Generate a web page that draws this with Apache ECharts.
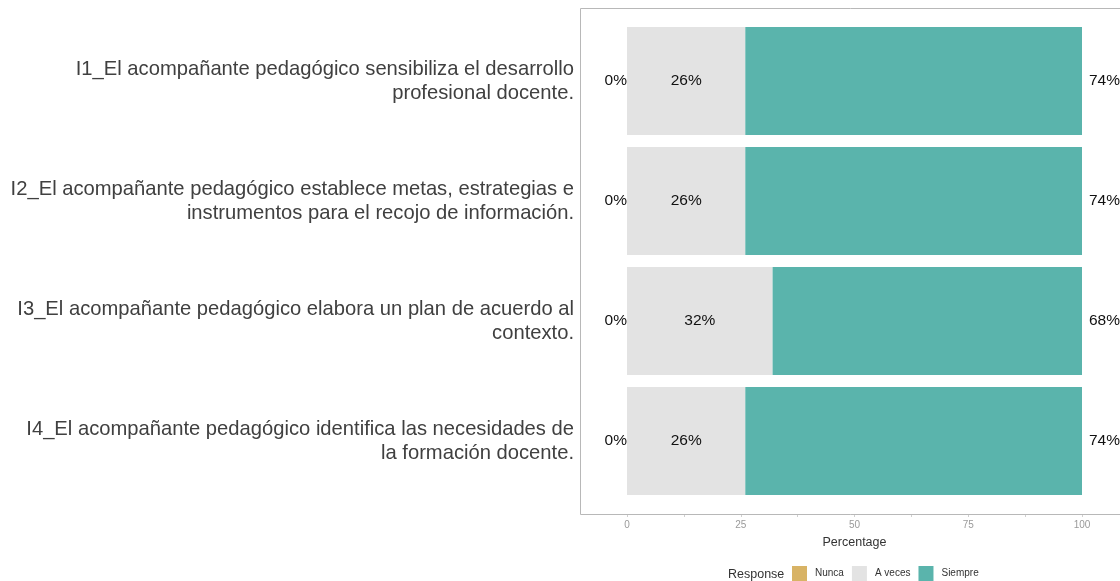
<!DOCTYPE html>
<html>
<head>
<meta charset="utf-8">
<script src="https://cdn.jsdelivr.net/npm/echarts@6/dist/echarts.min.js"></script>
<style>
html,body{margin:0;padding:0;background:#fff;}
#c{width:1120px;height:581px;}
</style>
</head>
<body>
<div id="c"></div>
<script>
const categories = [
  "I1_El acompañante pedagógico sensibiliza el desarrollo\nprofesional docente.",
  "I2_El acompañante pedagógico establece metas, estrategias e\ninstrumentos para el recojo de información.",
  "I3_El acompañante pedagógico elabora un plan de acuerdo al\ncontexto.",
  "I4_El acompañante pedagógico identifica las necesidades de\nla formación docente."
];
const nunca = [0, 0, 0, 0];
const aveces = [26, 26, 32, 26];
const siempre = [74, 74, 68, 74];
const tickValues = [0, 12.5, 25, 37.5, 50, 62.5, 75, 87.5, 100];
const tickLabels = [0, 25, 50, 75, 100];

const FONT = '"Liberation Sans", Arial, sans-serif';
const chart = echarts.init(document.getElementById('c'), null, {renderer: 'canvas'});
const pct = p => p.value + '%';

chart.setOption({
  animation: false,
  textStyle: {fontFamily: FONT},
  grid: {left: 580, top: 21, width: 549, height: 480, containLabel: false, outerBoundsMode: 'none'},
  graphic: [
    {type: 'rect', shape: {x: 580.5, y: 8.5, width: 549, height: 506},
     style: {fill: 'none', stroke: '#b8b8b8', lineWidth: 1}, z: 10, silent: true},
    {type: 'text', x: 728, y: 568,
     style: {text: 'Response', font: '12.5px ' + FONT, fill: '#333'}}
  ],
  legend: {
    left: 792, top: 566, orient: 'horizontal', padding: 0,
    itemWidth: 15, itemHeight: 15, itemGap: 8, icon: 'rect',
    textStyle: {fontSize: 10, color: '#333', fontFamily: FONT, padding: [0, 0, 0, 3]},
    data: ['Nunca', 'A veces', 'Siempre']
  },
  xAxis: {
    type: 'value', min: -10.33, max: 110.33, offset: 13,
    axisLine: {show: false},
    axisTick: {show: true, customValues: tickValues, length: 3, lineStyle: {color: '#cfcfcf'}},
    axisLabel: {customValues: tickLabels, color: '#9a9a9a', fontSize: 10, margin: 6, fontFamily: FONT},
    splitLine: {show: false},
    name: 'Percentage', nameLocation: 'middle', nameGap: 22,
    nameTextStyle: {fontSize: 12.5, color: '#333', fontFamily: FONT}
  },
  yAxis: {
    type: 'category', inverse: true, data: categories,
    axisLine: {show: false}, axisTick: {show: false},
    axisLabel: {align: 'right', fontSize: 20.2, lineHeight: 24, color: '#404040', margin: 6,
      padding: [10, 0, 0, 0], fontFamily: FONT}
  },
  series: [
    {name: 'Nunca', type: 'bar', stack: 'a', data: nunca, barCategoryGap: '10%',
     itemStyle: {color: '#d8b365'},
     label: {show: true, position: 'left', distance: 0, formatter: pct, color: '#111', fontSize: 15.5, fontFamily: FONT}},
    {name: 'A veces', type: 'bar', stack: 'a', data: aveces, barCategoryGap: '10%',
     itemStyle: {color: '#e3e3e3'},
     label: {show: true, position: 'inside', formatter: pct, color: '#111', fontSize: 15.5, fontFamily: FONT}},
    {name: 'Siempre', type: 'bar', stack: 'a', data: siempre, barCategoryGap: '10%',
     itemStyle: {color: '#5ab4ac'},
     label: {show: true, position: 'right', distance: 7, formatter: pct, color: '#111', fontSize: 15.5, fontFamily: FONT}}
  ]
});
</script>
</body>
</html>
